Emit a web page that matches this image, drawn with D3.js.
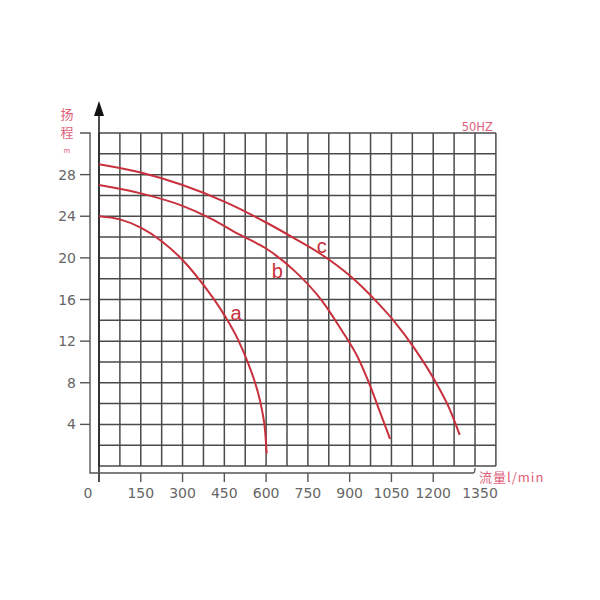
<!DOCTYPE html>
<html><head><meta charset="utf-8">
<script src="https://cdn.jsdelivr.net/npm/d3@7/dist/d3.min.js"></script>
<style>body{margin:0;background:#fff;}svg{display:block;}</style>
</head><body>
<svg id="chart" width="600" height="600"></svg>
<script>
const xTicks = [0,150,300,450,600,750,900,1050,1200,1350];
const yTicks = [4,8,12,16,20,24,28];
const seriesNames = ["a","b","c"];
const flowA = [0,75,150,225,300,375,450,500,535,565,585,597,602];
const headA = [24,23.7,22.9,21.6,19.8,17.4,14.5,12.1,9.9,7.6,5.4,3.2,1.2];
const flowB = [0,150,300,400,500,600,700,800,870,930,975,1010,1045];
const headB = [27,26.2,25.0,23.8,22.3,20.9,18.8,15.9,13.1,10.4,7.6,5.1,2.6];
const flowC = [0,150,300,450,600,700,800,900,1000,1060,1130,1210,1260,1295];
const headC = [29,28.2,27.0,25.4,23.4,21.9,20.3,18.3,15.7,13.9,11.4,8.0,5.4,3.0];
const labelPos = [[492,14.7],[640,18.8],[800,21.2]];
const yTitle = ["扬","程"];
const yUnit = "m";
const xTitle = "流量l/min";
const freqLabel = "50HZ";

const svg = d3.select("#chart");
const x = d3.scaleLinear().domain([0,1350]).range([99,475]);
const y = d3.scaleLinear().domain([0,32]).range([466,133]);
const gridColor = "#4a4a4a";
const red = "#c8303c";
const pink = "#e0607a";
const textGray = "#666";

// grid
const vx = d3.range(0, 1426, 75);
svg.append("g").selectAll("line").data(vx).join("line")
  .attr("x1", d=>x(d)).attr("x2", d=>x(d)).attr("y1", y(32)).attr("y2", y(0))
  .attr("stroke", gridColor).attr("stroke-width", 1.5);
const hy = d3.range(0, 33, 2);
svg.append("g").selectAll("line").data(hy).join("line")
  .attr("x1", x(0)).attr("x2", x(1425)).attr("y1", d=>y(d)).attr("y2", d=>y(d))
  .attr("stroke", gridColor).attr("stroke-width", 1.5);

// main y axis with arrow
svg.append("line").attr("x1", x(0)).attr("x2", x(0)).attr("y1", 112).attr("y2", 482)
  .attr("stroke", "#222").attr("stroke-width", 1.6);
svg.append("path").attr("d", `M${x(0)},101 L${x(0)-5},116 L${x(0)+5},116 Z`).attr("fill", "#111");

// bracket axes
const bx = 90, by = 473;
svg.append("path").attr("d", `M80,${y(32)} L${bx},${y(32)} L${bx},${by} L${x(1350)-2},${by} Q${x(1350)},${by} ${x(1350)},${by-5}`)
  .attr("fill","none").attr("stroke","#555").attr("stroke-width",1.4);
svg.append("g").selectAll("line").data(yTicks).join("line")
  .attr("x1", 80).attr("x2", bx).attr("y1", d=>y(d)).attr("y2", d=>y(d))
  .attr("stroke","#555").attr("stroke-width",1.4);
svg.append("g").selectAll("line").data(xTicks.filter(d=>d>0 && d<1350)).join("line")
  .attr("x1", d=>x(d)).attr("x2", d=>x(d)).attr("y1", by).attr("y2", 482)
  .attr("stroke","#555").attr("stroke-width",1.4);

// tick labels
svg.append("g").selectAll("text").data(yTicks).join("text")
  .attr("x", 76).attr("y", d=>y(d)).attr("dy","0.36em").attr("text-anchor","end")
  .attr("font-family","DejaVu Sans").attr("font-size",14).attr("fill",textGray)
  .text(d=>d);
svg.append("g").selectAll("text").data(xTicks).join("text")
  .attr("x", d=> d===0 ? 88 : x(d) + (d===1350?5:0)).attr("y", 498).attr("text-anchor","middle")
  .attr("font-family","DejaVu Sans").attr("font-size",14).attr("fill",textGray)
  .text(d=>d);

// titles
svg.append("g").selectAll("text").data(yTitle).join("text")
  .attr("x", 67).attr("y", (d,i)=>119 + i*18).attr("text-anchor","middle")
  .attr("font-family","Noto Sans CJK SC").attr("font-size",13).attr("fill",pink)
  .text(d=>d);
svg.append("text").attr("x",67).attr("y",153).attr("text-anchor","middle")
  .attr("font-family","DejaVu Sans").attr("font-size",7).attr("fill",pink).text(yUnit);
svg.append("text").attr("x",479).attr("y",482).attr("letter-spacing",1)
  .attr("font-family","Noto Sans CJK SC").attr("font-size",13).attr("fill",pink).text(xTitle);
svg.append("text").attr("x",x(1425)-3).attr("y",131).attr("text-anchor","end")
  .attr("font-family","DejaVu Sans").attr("font-size",11.5).attr("fill",pink).text(freqLabel);

// curves
const line = d3.line().x(d=>x(d[0])).y(d=>y(d[1])).curve(d3.curveMonotoneX);
const series = [[flowA,headA],[flowB,headB],[flowC,headC]];
series.forEach(([f,h]) => {
  svg.append("path").datum(f.map((q,i)=>[q,h[i]])).attr("d", line)
    .attr("fill","none").attr("stroke",red).attr("stroke-width",2);
});
svg.append("g").selectAll("text").data(seriesNames).join("text")
  .attr("x",(d,i)=>x(labelPos[i][0])).attr("y",(d,i)=>y(labelPos[i][1])).attr("dy","0.36em")
  .attr("text-anchor","middle").attr("font-family","Liberation Sans").attr("font-size",20)
  .attr("fill",red).text(d=>d);
</script>
</body></html>
